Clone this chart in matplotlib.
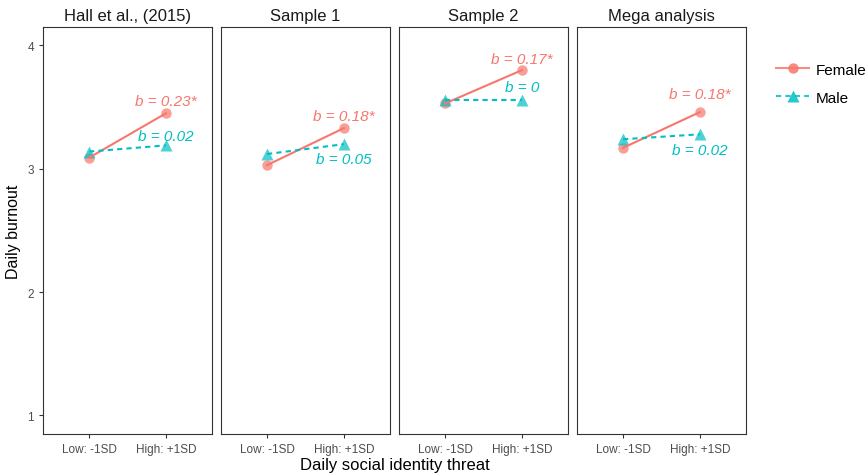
import numpy as np
import matplotlib.pyplot as plt
from matplotlib.lines import Line2D

plt.rcParams['font.family'] = ['Liberation Sans', 'DejaVu Sans']

panels = ["Hall et al., (2015)", "Sample 1", "Sample 2", "Mega analysis"]
levels = ["Low: -1SD", "High: +1SD"]
female = [[3.09, 3.45], [3.03, 3.33], [3.53, 3.80], [3.17, 3.46]]
male = [[3.14, 3.19], [3.12, 3.20], [3.56, 3.56], [3.24, 3.28]]
female_b = ["b = 0.23*", "b = 0.18*", "b = 0.17*", "b = 0.18*"]
male_b = ["b = 0.02", "b = 0.05", "b = 0", "b = 0.02"]
# y position of the slope labels
female_lab_y = [3.55, 3.43, 3.89, 3.61]
male_lab_y = [3.27, 3.08, 3.66, 3.15]

col_f = "#F8766D"
col_m = "#00BFC4"

fig, axes = plt.subplots(1, 4, figsize=(8.68, 4.77), dpi=100, sharey=True)
fig.subplots_adjust(left=0.0495, right=0.8594, top=0.9413, bottom=0.0881, wspace=0.053)

x = np.array([1, 2])
for i, ax in enumerate(axes):
    ax.plot(x, female[i], 'o', color=col_f, ms=7.5, alpha=0.7, mec='none', zorder=2)
    ax.plot(x, female[i], color=col_f, lw=1.5, zorder=3)
    ax.plot(x, male[i], '^', color=col_m, ms=9, alpha=0.7, mec='none', zorder=2)
    ax.plot(x, male[i], color=col_m, lw=1.5, ls=(0, (2.5, 2)), zorder=3)
    ax.text(2, female_lab_y[i], female_b[i], color=col_f, style='italic', fontsize=11,
            ha='center', va='center')
    ax.text(2, male_lab_y[i], male_b[i], color=col_m, style='italic', fontsize=11,
            ha='center', va='center')
    ax.set_xlim(0.4, 2.6)
    ax.set_ylim(0.85, 4.15)
    ax.set_xticks(x)
    ax.set_xticklabels(levels)
    ax.set_yticks([1, 2, 3, 4])
    ax.set_title(panels[i], fontsize=12, color='#1A1A1A', pad=5)
    for s in ax.spines.values():
        s.set_color('#333333')
        s.set_linewidth(0.8)
    ax.tick_params(length=3, color='#333333', labelsize=8.5, labelcolor='#4D4D4D', width=0.8)
    if i > 0:
        ax.tick_params(axis='y', left=False)

fig.text(0.016, 0.515, "Daily burnout", rotation=90, ha='center', va='center', fontsize=11.5)
fig.text(0.455, 0.025, "Daily social identity threat", ha='center', va='center', fontsize=12)

handles = [
    Line2D([], [], color=col_f, lw=1.5, marker='o', ms=7.5, mfc=col_f, mec='none', alpha=0.85),
    Line2D([], [], color=col_m, lw=1.5, ls=(0, (2.5, 2)), marker='^', ms=9, mfc=col_m, mec='none', alpha=0.85),
]
fig.legend(handles, ["Female", "Male"], loc='upper left', bbox_to_anchor=(0.878, 0.895),
           frameon=False, fontsize=11, handlelength=2.2, labelspacing=0.9, handletextpad=0.4)

plt.savefig("out.png", dpi=100)
